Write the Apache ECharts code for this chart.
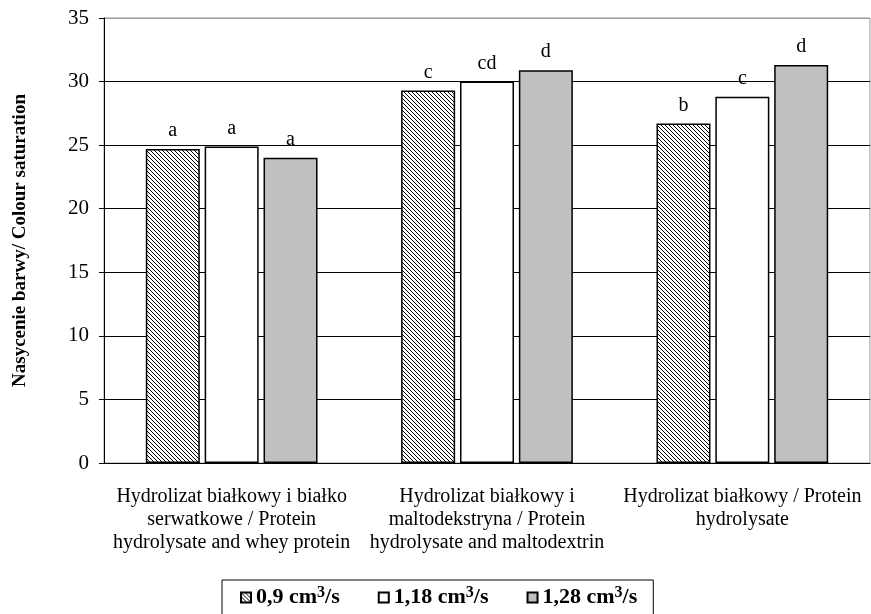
<!DOCTYPE html>
<html><head><meta charset="utf-8">
<script src="https://cdn.jsdelivr.net/npm/echarts@6/dist/echarts.min.js"></script>
<style>html,body{margin:0;padding:0;background:#fff}#c{width:871px;height:614px}</style>
</head><body><div id="c"></div>
<script>
const categories = [
  'Hydrolizat białkowy i białko\nserwatkowe / Protein\nhydrolysate and whey protein',
  'Hydrolizat białkowy i\nmaltodekstryna / Protein\nhydrolysate and maltodextrin',
  'Hydrolizat białkowy / Protein\nhydrolysate'
];
const seriesNames = ['0,9 cm3/s', '1,18 cm3/s', '1,28 cm3/s'];
const values09 = [24.7, 29.3, 26.7];
const values118 = [24.9, 30.0, 28.8];
const values128 = [24.0, 30.9, 31.3];
const letters09 = ['a', 'c', 'b'];
const letters118 = ['a', 'cd', 'c'];
const letters128 = ['a', 'd', 'd'];
const yTicks = [0, 5, 10, 15, 20, 25, 30, 35];

const FONT = '"Liberation Serif", "Times New Roman", serif';

function hatch() {
  const s = 4;
  const c = document.createElement('canvas');
  c.width = s; c.height = s;
  const g = c.getContext('2d');
  g.fillStyle = '#fff'; g.fillRect(0, 0, s, s);
  g.strokeStyle = '#000'; g.lineWidth = 1;
  for (const k of [-s, 0, s]) {
    g.beginPath(); g.moveTo(0, k); g.lineTo(s, k + s); g.stroke();
  }
  return { image: c, repeat: 'repeat' };
}

const fills = [hatch(), '#ffffff', '#c0c0c0'];
const data = [values09, values118, values128];
const letters = [letters09, letters118, letters128];

const chart = echarts.init(document.getElementById('c'));
chart.setOption({
  animation: false,
  backgroundColor: '#fff',
  textStyle: { fontFamily: FONT, color: '#000' },
  grid: { left: 104, right: 1, top: 18, bottom: 151, show: true, borderColor: '#999', borderWidth: 1 },
  legend: {
    left: 222, top: 580,
    data: seriesNames,
    icon: 'rect', itemWidth: 10, itemHeight: 10, itemGap: 38,
    borderColor: '#000', borderWidth: 1,
    padding: [5, 16, 12, 18],
    formatter: function (name) {
      const base = name.replace('cm3/s', 'cm');
      return '{t|' + base + '}{s|3}{t|/s}';
    },
    textStyle: {
      fontFamily: FONT,
      rich: {
        t: { fontFamily: FONT, fontSize: 22, fontWeight: 'bold', color: '#000' },
        s: { fontFamily: FONT, fontSize: 16, fontWeight: 'bold', color: '#000', verticalAlign: 'top', padding: [0, 0, 9, 0] }
      }
    }
  },
  xAxis: {
    type: 'category',
    data: categories,
    axisLine: { lineStyle: { color: '#000', width: 1 } },
    axisTick: { length: 7, interval: 0, lineStyle: { color: '#000' } },
    axisLabel: { interval: 0, fontFamily: FONT, fontSize: 20, lineHeight: 23, color: '#000', margin: 22 }
  },
  yAxis: {
    type: 'value', min: 0, max: 35, interval: 5,
    name: 'Nasycenie barwy/ Colour saturation',
    nameLocation: 'middle', nameRotate: 90, nameGap: 74,
    nameTextStyle: { fontFamily: FONT, fontSize: 19, fontWeight: 'bold', color: '#000' },
    axisLine: { show: true, lineStyle: { color: '#000', width: 1 } },
    axisTick: { show: true, length: 5, lineStyle: { color: '#000' } },
    axisLabel: { fontFamily: FONT, fontSize: 21, color: '#000', margin: 15,
      formatter: function (v) { return yTicks.indexOf(v) >= 0 ? String(v) : ''; } },
    splitLine: { show: true, lineStyle: { color: ['#000', '#000', '#000', '#000', '#000', '#000', '#000', '#999'], width: 1 } }
  },
  series: seriesNames.map(function (n, i) {
    return {
      name: n, type: 'bar',
      data: data[i],
      barWidth: 54, barGap: '9%',
      itemStyle: { color: fills[i], borderColor: '#000', borderWidth: 1.5 },
      label: {
        show: true, position: 'top', distance: 8,
        fontFamily: FONT, fontSize: 20, color: '#000',
        formatter: function (p) { return letters[i][p.dataIndex]; }
      }
    };
  })
});
</script></body></html>
